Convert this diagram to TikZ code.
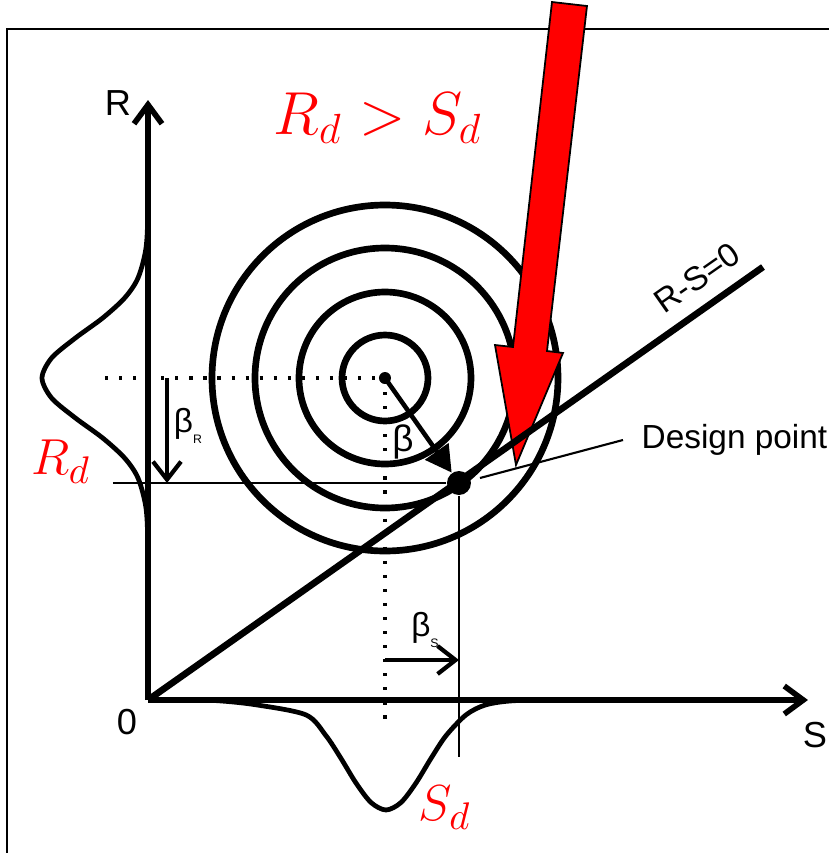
\documentclass[tikz,border=0pt]{standalone}
\usepackage{fontspec}
\setmainfont{Liberation Sans}
\usetikzlibrary{arrows.meta}
\tikzset{
 axis/.style={line width=1.6pt,-{Straight Barb[length=1.9mm,width=2.8mm]}},
 ring/.style={line width=1.9pt},
 density/.style={line width=1.35pt,smooth},
 guide/.style={line width=0.9pt,dash pattern=on 0.9pt off 3.1pt},
 thinline/.style={line width=0.7pt},
 betaarrow/.style={line width=1.2pt,-{Straight Barb[length=1.8mm,width=2.8mm]}},
 redlabel/.style={text=red,inner sep=0pt},
 sanslabel/.style={inner sep=0pt,font=\fontsize{10.3}{12}\selectfont},
 betalabel/.style={inner sep=0pt,font=\fontsize{9.5}{11}\selectfont},
}
\newcommand{\tinysub}[1]{\raisebox{-0.6ex}{\fontsize{3.5}{4}\selectfont #1}}
\begin{document}
\begin{tikzpicture}[x=1cm,y=1cm]
 \useasboundingbox (-1.48,-1.53) rectangle (6.81,7.00);
 \clip (-1.48,-1.53) rectangle (6.81,7.00);
 % frame, cut by the page
 \draw[line width=0.6pt] (-1.41,6.71) rectangle (7.5,-2);
 \coordinate (O) at (0,0);
 \coordinate (C) at (2.37,3.22);
 \coordinate (Rtop) at (0,6.0);
 \coordinate (Send) at (6.6,0);
 \coordinate (line) at (6.15,4.33);
 % densities of R and S
 \draw[density] plot coordinates {(0,5.6)(-.001,4.92)(-.02,4.52)(-.1,4.22)(-.234,4.02)(-.453,3.82)(-.726,3.62)(-.964,3.42)(-1.06,3.22)(-.964,3.02)(-.726,2.82)(-.453,2.62)(-.234,2.42)(-.1,2.22)(-.02,1.92)(-.001,1.52)(0,0.9)};
 \draw[density] plot coordinates {(.3,0)(.68,-.006)(1.08,-.048)(1.58,-.149)(1.78,-.357)(1.93,-.584)(2.08,-.83)(2.23,-1.025)(2.38,-1.1)(2.53,-1.025)(2.68,-.83)(2.83,-.584)(2.98,-.357)(3.18,-.149)(3.38,-.048)(3.68,-.006)(4.3,0)};
 % axes
 \draw[axis] (O) -- (Rtop);
 \draw[axis] (O) -- (Send);
 \node[sanslabel] (Rlab) at (-0.30,5.97) {R};
 \node[sanslabel] (zero) at (-0.21,-0.22) {0};
 \node[sanslabel] (Slab) at (6.67,-0.35) {S};
 % mean values
 \coordinate (mR) at (-0.43,3.22);
 \coordinate (mS) at (2.37,-0.25);
 \draw[guide] (mR) -- (C);
 \draw[guide] (C) -- (mS);
 % contours of the joint density
 \foreach \r in {0.43,0.86,1.30,1.73}
  \draw[ring] (C) circle (\r);
 % red arrow
 \draw[fill=red,line width=0.5pt] (4.04,6.98) -- (4.39,6.94) -- (3.99,3.49) -- (4.15,3.47) -- (3.68,2.35) -- (3.47,3.55) -- (3.65,3.53) -- cycle;
 % limit state
 \draw[ring] (O) -- (line);
 \node[betalabel,rotate=35] (limit) at (5.49,4.22) {R-S=0};
 % design point
 \node[circle,fill,inner sep=0pt,minimum size=0.24cm] (dp) at (3.11,2.17) {};
 \fill (C) circle (0.06);
 \draw[line width=1.3pt,-{Triangle[length=2.6mm,width=2.8mm]}] (C) -- (dp);
 \node[betalabel,font=\fontsize{10.5}{12}\selectfont] (beta) at (2.55,2.58) {β};
 \coordinate (rdleft) at (-0.35,2.17);
 \coordinate (sdfoot) at (3.11,-0.57);
 \draw[thinline] (rdleft) -- (dp);
 \draw[thinline] (dp) -- (sdfoot);
 \coordinate (leadstart) at (3.32,2.22);
 \coordinate (leadend) at (4.75,2.60);
 \draw[line width=0.6pt] (leadstart) -- (leadend);
 \node[anchor=west,inner sep=0pt,font=\fontsize{9.5}{11}\selectfont] (design) at (4.93,2.60) {Design point};
 % beta components
 \coordinate (bRtop) at (0.19,3.22);
 \coordinate (bRbot) at (0.19,2.17);
 \draw[betaarrow] (bRtop) -- (bRbot);
 \node[betalabel] (betaR) at (0.40,2.74) {β\tinysub{R}};
 \coordinate (bSleft) at (2.37,0.40);
 \coordinate (bSright) at (3.11,0.40);
 \draw[betaarrow] (bSleft) -- (bSright);
 \node[betalabel] (betaS) at (2.77,0.70) {β\tinysub{S}};
 % red labels
 \node[redlabel,font=\fontsize{15.5}{18}\selectfont] (Rd) at (-0.87,2.38) {$R_d$};
 \node[redlabel,font=\fontsize{17.5}{20}\selectfont] (cond) at (2.30,5.82) {$R_d > S_d$};
 \node[redlabel,font=\fontsize{15.5}{18}\selectfont] (Sd) at (2.97,-1.08) {$S_d$};
\end{tikzpicture}
\end{document}
